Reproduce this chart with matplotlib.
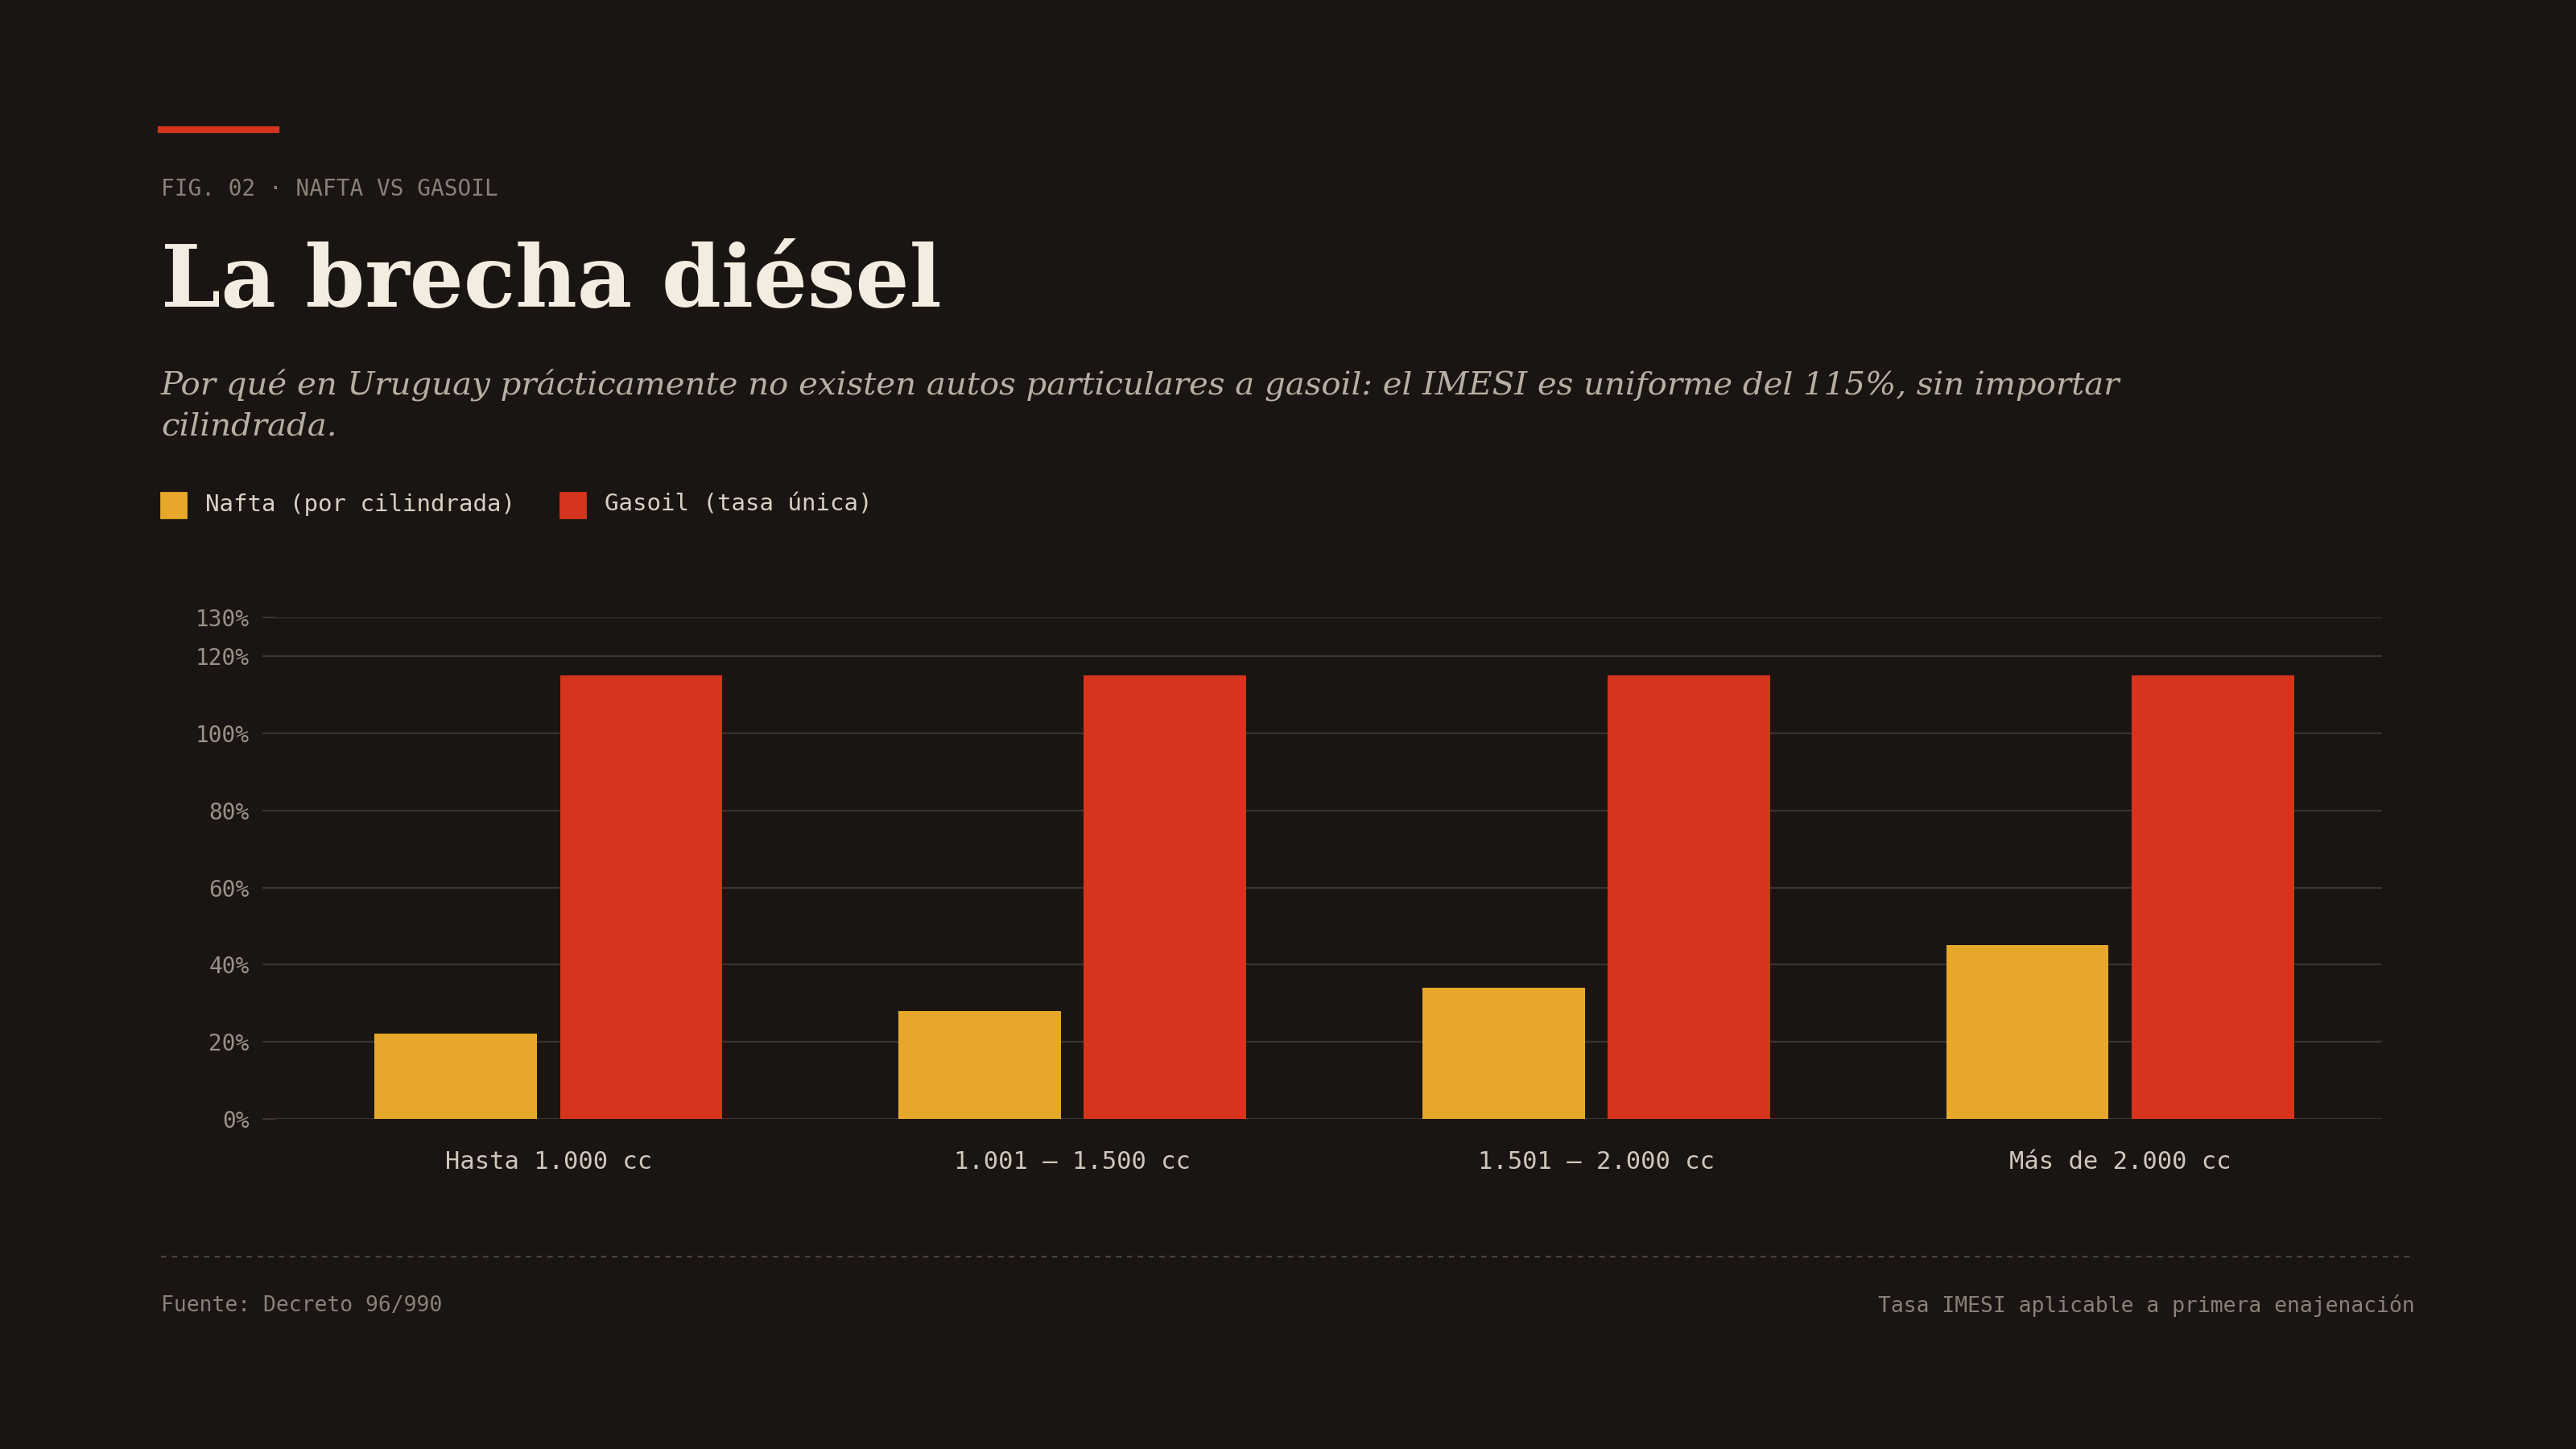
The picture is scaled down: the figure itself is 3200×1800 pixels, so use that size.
import matplotlib
matplotlib.use("Agg")
import matplotlib.pyplot as plt
import numpy as np
from matplotlib.lines import Line2D
from matplotlib.patches import Rectangle

categories = ["Hasta 1.000 cc", "1.001 – 1.500 cc", "1.501 – 2.000 cc", "Más de 2.000 cc"]
nafta = [22, 28, 34, 45]
gasoil = [115, 115, 115, 115]
yticks = [0, 20, 40, 60, 80, 100, 120, 130]

BG = "#1a1512"
NAFTA = "#e6a72a"
GASOIL = "#d4351c"
GRID = "#3a332e"
MUTED = "#8a8078"
LIGHT = "#f3ece0"
MONO = "DejaVu Sans Mono"
SERIF = "DejaVu Serif"

fig = plt.figure(figsize=(16, 9), dpi=200, facecolor=BG)
W, H = 1568, 882
def fx(px): return px / W
def fy(py): return 1 - py / H

# header
fig.add_artist(Line2D([fx(98), fx(168)], [fy(79), fy(79)], color=GASOIL, lw=3))
fig.text(fx(98), fy(115), "FIG. 02 · NAFTA VS GASOIL", color=MUTED, family=MONO,
         fontsize=10, va="center")
fig.text(fx(98), fy(172), "La brecha diésel", color=LIGHT, family=SERIF, weight="bold",
         fontsize=38, va="center")
fig.text(fx(98), fy(247), "Por qué en Uruguay prácticamente no existen autos particulares a gasoil: el IMESI es uniforme del 115%, sin importar\ncilindrada.",
         color="#b8aea3", family=SERIF, style="italic", fontsize=14.5, va="center", linespacing=1.45)

# legend
for x0, col, lab in [(98, NAFTA, "Nafta (por cilindrada)"), (341, GASOIL, "Gasoil (tasa única)")]:
    fig.add_artist(Rectangle((fx(x0), fy(315)), fx(15), 15 / H, color=col, transform=fig.transFigure))
    fig.text(fx(x0 + 27), fy(307), lab, color="#d8d0c4", family=MONO, fontsize=10.5, va="center")

ax = fig.add_axes([fx(168), fy(681), fx(1450) - fx(168), fy(376) - fy(681)])
ax.set_facecolor(BG)
x = np.arange(len(categories))
bw = 0.31
ax.bar(x - 0.177, nafta, bw, color=NAFTA, zorder=3)
ax.bar(x + 0.177, gasoil, bw, color=GASOIL, zorder=3)
ax.set_xlim(-0.52, 3.5)
ax.set_ylim(0, 130)
ax.set_yticks(yticks)
ax.set_yticklabels([f"{v}%" for v in yticks])
ax.grid(axis="y", color=GRID, lw=0.8, zorder=0)
ax.set_xticks(x)
ax.set_xticklabels(categories)
for s in ax.spines.values():
    s.set_visible(False)
ax.tick_params(axis="y", colors=MUTED, length=6, width=0.8, color=GRID, pad=6)
ax.tick_params(axis="x", length=0, pad=14, colors="#cfc7bb")
for t in ax.get_yticklabels():
    t.set_family(MONO); t.set_fontsize(10); t.set_color("#9a9088")
for t in ax.get_xticklabels():
    t.set_family(MONO); t.set_fontsize(11); t.set_color("#cfc7bb")

# footer
fig.add_artist(Line2D([fx(98), fx(1470)], [fy(765), fy(765)], color="#4a423c", lw=0.8, ls=(0, (3, 3))))
fig.text(fx(98), fy(795), "Fuente: Decreto 96/990", color=MUTED, family=MONO, fontsize=9.5, va="center")
fig.text(fx(1470), fy(795), "Tasa IMESI aplicable a primera enajenación", color=MUTED, family=MONO,
         fontsize=9.5, va="center", ha="right")

fig.savefig("out.png", dpi=200, facecolor=BG)
